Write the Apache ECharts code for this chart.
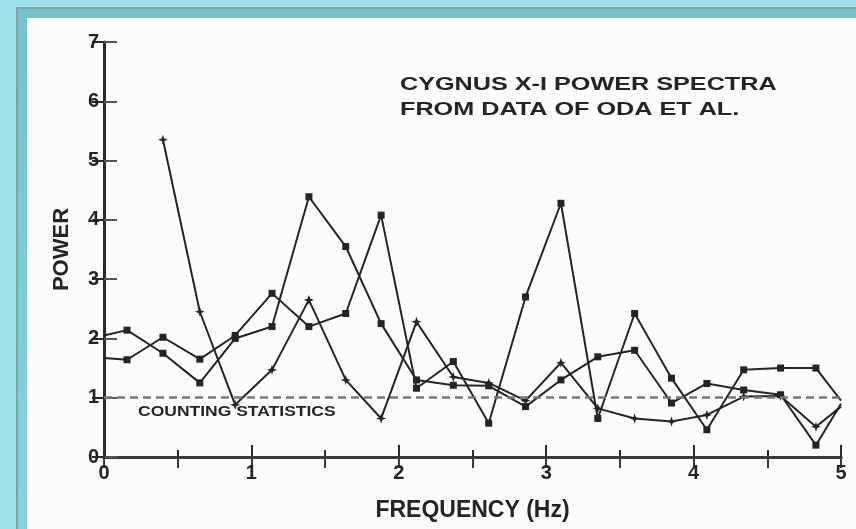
<!DOCTYPE html>
<html>
<head>
<meta charset="utf-8">
<title>Cygnus X-1 power spectra</title>
<script src="https://cdn.jsdelivr.net/npm/echarts@6/dist/echarts.min.js"></script>
<style>
  html, body { margin: 0; padding: 0; width: 856px; height: 529px; overflow: hidden; background: #9fe1e9; }
  #frame { position: absolute; left: 16px; top: 7px; right: 0; bottom: 0;
           border-left: 2px solid #8a9ea2; border-top: 2px solid #8a9ea2;
           background: linear-gradient(180deg, #74c3cb 0%, #86d3db 100%); }
  #panel { position: absolute; left: 27px; top: 18px; right: 0; bottom: 0; background: #fbfdfc; }
  #chart { position: absolute; left: 0; top: 0; width: 856px; height: 529px; }
</style>
</head>
<body>
<div id="frame"></div>
<div id="panel"></div>
<div id="chart"></div>
<script>
// Frequencies (Hz) and power values of the three spectra
const freqA  = [0.40, 0.65, 0.89, 1.14, 1.39, 1.64, 1.88, 2.12, 2.37, 2.61, 2.86, 3.10, 3.35, 3.60, 3.85, 4.09, 4.34, 4.59, 4.83, 5.00];
const powerA = [5.35, 2.45, 0.88, 1.47, 2.65, 1.30, 0.65, 2.28, 1.35, 1.25, 0.95, 1.59, 0.82, 0.65, 0.60, 0.71, 1.02, 1.03, 0.51, 0.85];

const freqBC = [0.00, 0.156, 0.40, 0.65, 0.89, 1.14, 1.39, 1.64, 1.88, 2.12, 2.37, 2.61, 2.86, 3.10, 3.35, 3.60, 3.85, 4.09, 4.34, 4.59, 4.83, 5.00];
const powerB = [2.05, 2.14, 1.75, 1.25, 2.00, 2.20, 4.39, 3.55, 2.25, 1.30, 1.21, 1.20, 0.85, 1.30, 1.69, 1.80, 0.91, 1.24, 1.13, 1.05, 0.20, 0.90];
const powerC = [1.67, 1.64, 2.02, 1.65, 2.05, 2.76, 2.20, 2.42, 4.08, 1.16, 1.61, 0.57, 2.70, 4.28, 0.65, 2.42, 1.33, 0.46, 1.47, 1.50, 1.50, 0.95];

// Axis ticks
const xTicks = [0, 1, 2, 3, 4, 5];
const yTicks = [0, 1, 2, 3, 4, 5, 6, 7];
const countingLevel = 1;

const INK = '#242424';
const FONT = "'Liberation Sans', Arial, Helvetica, sans-serif";

// endpoints on the frame edges carry no marker
function toData(xs, ys) {
  return xs.map((x, i) => {
    const item = { value: [x, ys[i]] };
    if (x <= 0 || x >= 5) item.symbolSize = 0;
    return item;
  });
}

const starPath = 'path://M0,-10L2.6,-2.6L10,0L2.6,2.6L0,10L-2.6,2.6L-10,0L-2.6,-2.6Z';

const lineStyle = { color: INK, width: 2 };

const chart = echarts.init(document.getElementById('chart'), null, { renderer: 'canvas' });
chart.setOption({
  backgroundColor: 'transparent',
  animation: false,
  grid: { left: 104, right: 15, top: 42, bottom: 72, containLabel: false },
  xAxis: [
    {
      type: 'value', min: xTicks[0], max: xTicks[xTicks.length - 1], interval: 1,
      position: 'bottom',
      name: 'FREQUENCY (Hz)', nameLocation: 'middle', nameGap: 42,
      nameTextStyle: { color: INK, fontFamily: FONT, fontWeight: 'bold', fontSize: 23 },
      axisLine: { show: true, lineStyle: { color: '#1c1c1c', width: 3 } },
      axisTick: { show: true, inside: true, length: 12, lineStyle: { color: '#2a2a2a', width: 2 } },
      minorTick: { show: true, splitNumber: 2, length: 7, lineStyle: { color: '#2a2a2a', width: 2 } },
      axisLabel: { color: INK, fontFamily: FONT, fontWeight: 'bold', fontSize: 20, margin: 6 },
      splitLine: { show: false }
    },
    {
      type: 'value', min: xTicks[0], max: xTicks[xTicks.length - 1], interval: 0.5,
      position: 'top',
      axisLine: { show: true, lineStyle: { color: '#3a3a3a', width: 3 } },
      axisTick: { show: true, inside: true, length: 11, lineStyle: { color: '#3a3a3a', width: 2 } },
      axisLabel: { show: false },
      splitLine: { show: false }
    }
  ],
  yAxis: [
    {
      type: 'value', min: yTicks[0], max: yTicks[yTicks.length - 1], interval: 1,
      position: 'left',
      name: 'POWER', nameLocation: 'middle', nameGap: 31, nameRotate: 90,
      nameTextStyle: { color: INK, fontFamily: FONT, fontWeight: 'bold', fontSize: 22 },
      axisLine: { show: true, lineStyle: { color: '#7a7a7a', width: 2.5 } },
      axisTick: { show: true, inside: true, length: 13, lineStyle: { color: '#555', width: 2 } },
      axisLabel: { color: INK, fontFamily: FONT, fontWeight: 'bold', fontSize: 20, margin: 5 },
      splitLine: { show: false }
    },
    {
      type: 'value', min: yTicks[0], max: yTicks[yTicks.length - 1], interval: 1,
      position: 'right',
      axisLine: { show: true, lineStyle: { color: '#2a2a2a', width: 3 } },
      axisTick: { show: true, inside: true, length: 12, lineStyle: { color: '#2a2a2a', width: 2 } },
      axisLabel: { show: false },
      splitLine: { show: false }
    }
  ],
  graphic: [
    {
      type: 'text', x: 400, y: 73, scaleX: 1.4, z: 10,
      style: {
        text: 'CYGNUS X-I POWER SPECTRA\nFROM DATA OF ODA ET AL.',
        fill: INK, font: 'bold 18px ' + FONT, lineHeight: 25
      }
    },
    {
      type: 'text', x: 138, y: 405, scaleX: 1.25, z: 10,
      style: {
        text: 'COUNTING STATISTICS',
        fill: INK, font: 'bold 14px ' + FONT
      }
    }
  ],
  series: [
    {
      name: 'A', type: 'line', data: toData(freqA, powerA),
      symbol: starPath, symbolSize: 10, showSymbol: true,
      itemStyle: { color: INK }, lineStyle: lineStyle, z: 3,
      markLine: {
        silent: true, symbol: 'none',
        lineStyle: { color: '#777', width: 2.5, type: [8, 5] },
        label: { show: false },
        data: [{ yAxis: countingLevel }]
      }
    },
    {
      name: 'B', type: 'line', data: toData(freqBC, powerB),
      symbol: 'rect', symbolSize: 7, showSymbol: true,
      itemStyle: { color: INK }, lineStyle: lineStyle, z: 3
    },
    {
      name: 'C', type: 'line', data: toData(freqBC, powerC),
      symbol: 'rect', symbolSize: 7, showSymbol: true,
      itemStyle: { color: INK }, lineStyle: lineStyle, z: 3
    }
  ]
});
</script>
</body>
</html>
